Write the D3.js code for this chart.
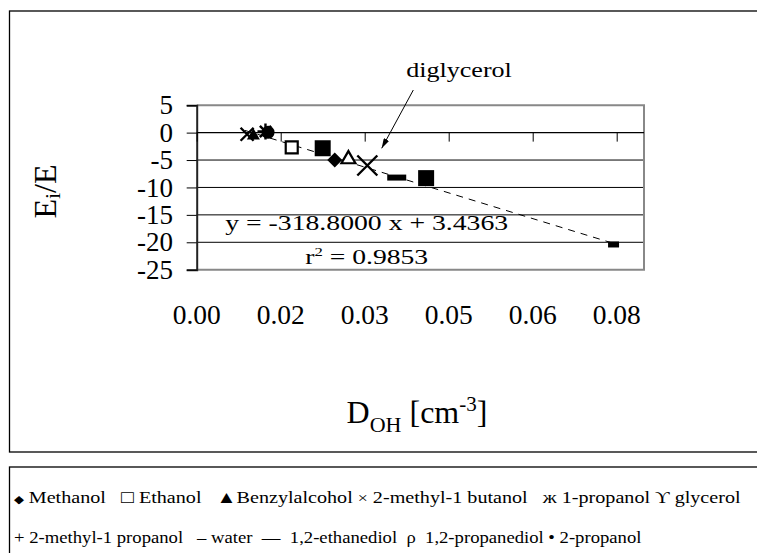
<!DOCTYPE html>
<html><head><meta charset="utf-8">
<script src="https://cdn.jsdelivr.net/npm/d3@7"></script>
<style>body{margin:0;background:#fff}</style>
</head><body>
<svg id="c" width="757" height="553" font-family="Liberation Serif"></svg>
<script>
// ---- data ----
const seriesNames = ["2-methyl-1 butanol","Benzylalcohol","1-propanol","2-propanol","Ethanol","2-methyl-1 propanol","Methanol","1,2-propanediol","diglycerol","1,2-ethanediol","glycerol","water"];
const seriesX = [0.0096,0.0108,0.0131,0.0136,0.0181,0.0240,0.0263,0.0289,0.0325,0.0381,0.0437,0.0794];
const seriesY = [-0.3,-0.45,0.2,0.05,-2.7,-2.85,-5.0,-4.7,-6.0,-8.2,-8.3,-20.4];
const xTickValues = [0,0.016,0.032,0.048,0.064,0.080];
const xTickLabels = ["0.00","0.02","0.03","0.05","0.06","0.08"];
const yTickValues = [5,0,-5,-10,-15,-20,-25];
const trendX = [0.0092,0.0794];
const trendY = [0.4,-20.2];
const equationText = "y = -318.8000 x + 3.4363";
const r2Text = "0.9853";
const annotationLabel = "diglycerol";
const annotationFrom = [0.04126,7.77];
const annotationTo = [0.03524,-2.86];
// legend: [symbol, label] pairs as printed in the reference
const legendSymbols1 = ["\u25C6","\u25A1","\u25B2","\u00D7","\u0436","\u03D2"];
const legendLabels1  = [" Methanol   "," Ethanol   ","Benzylalcohol "," 2-methyl-1 butanol   "," 1-propanol "," glycerol"];
const legendSymbols2 = ["+","\u2013","\u2014","\u03C1","\u2022"];
const legendLabels2  = [" 2-methyl-1 propanol   "," water  ","  1,2-ethanediol  ","  1,2-propanediol "," 2-propanol"];

// ---- marker styles (by series) ----
const markerStyle = {
  "2-methyl-1 butanol":{type:"x",s:13},
  "Benzylalcohol":{type:"triF",s:13},
  "1-propanol":{type:"ast",s:16},
  "2-propanol":{type:"circ",s:13},
  "Ethanol":{type:"sqO",s:12},
  "2-methyl-1 propanol":{type:"sqF",s:16},
  "Methanol":{type:"dia",s:15},
  "1,2-propanediol":{type:"triO",s:14},
  "diglycerol":{type:"x",s:20},
  "1,2-ethanediol":{type:"bar",w:19,h:6},
  "glycerol":{type:"sqF",s:16},
  "water":{type:"bar",w:11,h:6}
};
const legendSymbolSize = {"\u25C6":11,"\u25A1":18,"\u25B2":17,"\u00D7":15};

const FONT = "Liberation Serif";
const svg = d3.select("#c");
const L=196.7, R=644, T=105.2, B=269.7;
const x = d3.scaleLinear().domain([0,0.0852]).range([L,R]);
const y = d3.scaleLinear().domain([-25,5]).range([B,T]);
function txt(parent){ return parent.append("text").attr("font-family",FONT).style("font-family","'"+FONT+"'").attr("fill","#000"); }

// outer frames
svg.append("rect").attr("x",9.5).attr("y",11).attr("width",800).attr("height",441)
  .attr("fill","none").attr("stroke","#000").attr("stroke-width",1.3);
svg.append("rect").attr("x",9.5).attr("y",467).attr("width",800).attr("height",120)
  .attr("fill","none").attr("stroke","#000").attr("stroke-width",1.3);

// gridlines
const g = svg.append("g");
g.selectAll("line.grid").data(yTickValues.filter(v=>v!==5 && v!==-25 && v!==0)).enter()
  .append("line").attr("x1",L).attr("x2",R).attr("y1",d=>y(d)).attr("y2",d=>y(d))
  .attr("stroke","#000").attr("stroke-width",1);
// plot border (grey)
g.append("path").attr("d",`M${L},${T}H${R}V${B}H${L}`).attr("fill","none")
  .attr("stroke","#888").attr("stroke-width",2);

// y axis
const yAxis = d3.axisLeft(y).tickValues(yTickValues).tickSize(10).tickFormat("");
const ya = svg.append("g").attr("transform",`translate(${L},0)`).call(yAxis);
ya.attr("font-family",null);
ya.select(".domain").attr("stroke","#222").attr("stroke-width",2);
ya.selectAll(".tick line").attr("stroke","#000");
const yl = svg.append("g");
yTickValues.forEach(v=>{
  txt(yl).attr("x",173).attr("y",y(v)).attr("dy","0.34em").attr("text-anchor","end").attr("font-size",27)
    .text(v<0?"-"+Math.abs(v):String(v));
});

// x axis at y=0 with downward ticks
const xAxis = d3.axisBottom(x).tickValues(xTickValues).tickSize(9).tickFormat("");
const xa = svg.append("g").attr("transform",`translate(0,${y(0)})`).call(xAxis);
xa.attr("font-family",null);
xa.select(".domain").attr("d",`M${L},0H${R}`).attr("stroke","#000").attr("stroke-width",1.2);
xa.selectAll(".tick line").attr("stroke","#000");
const xl = svg.append("g");
xTickValues.forEach((v,i)=>{
  txt(xl).attr("x",x(v)).attr("y",324).attr("text-anchor","middle").attr("font-size",27.5).text(xTickLabels[i]);
});

// trendline
svg.append("line").attr("x1",x(trendX[0])).attr("y1",y(trendY[0]))
  .attr("x2",x(trendX[1])).attr("y2",y(trendY[1]))
  .attr("stroke","#000").attr("stroke-width",1).attr("stroke-dasharray","7,6");

// markers
function markerPath(st){
  const s=st.s/2;
  switch(st.type){
    case "x": return `M${-s},${-s}L${s},${s}M${-s},${s}L${s},${-s}`;
    case "ast": return `M${-s},0L${s},0M0,${-s}L0,${s}M${-s*0.7},${-s*0.7}L${s*0.7},${s*0.7}M${-s*0.7},${s*0.7}L${s*0.7},${-s*0.7}`;
    case "triF": case "triO": { const h=st.s*0.87; return `M0,${-h*0.6}L${s},${h*0.4}L${-s},${h*0.4}Z`; }
    case "sqF": case "sqO": return `M${-s},${-s}H${s}V${s}H${-s}Z`;
    case "dia": return `M0,${-s}L${s},0L0,${s}L${-s},0Z`;
    case "bar": return `M${-st.w/2},${-st.h/2}H${st.w/2}V${st.h/2}H${-st.w/2}Z`;
  }
}
const pts = seriesNames.map((n,i)=>({n,x:seriesX[i],y:seriesY[i],st:markerStyle[n]}));
svg.append("g").selectAll("g").data(pts).enter().append("g")
  .attr("transform",d=>`translate(${x(d.x)},${y(d.y)})`)
  .each(function(d){
    const sel=d3.select(this);
    if(d.st.type==="circ"){
      sel.append("circle").attr("r",d.st.s/2).attr("fill","#000");
      return;
    }
    const p=sel.append("path").attr("d",markerPath(d.st));
    if(["x","ast"].includes(d.st.type)) p.attr("fill","none").attr("stroke","#000").attr("stroke-width",2.4);
    else if(["sqO","triO"].includes(d.st.type)) p.attr("fill","#fff").attr("stroke","#000").attr("stroke-width",2.2);
    else p.attr("fill","#000");
  });

// stretched text helper
function stretched(parent,cx,by,size,targetW,build,anchor){
  const t=txt(parent).attr("font-size",size).attr("text-anchor",anchor||"middle").attr("xml:space","preserve");
  build(t);
  const w=t.node().getBBox().width;
  const sx=targetW/w;
  t.attr("transform",`translate(${cx},${by}) scale(${sx},1)`);
  return t;
}
// equation and r^2
stretched(svg,366.7,230,21.5,283,t=>t.text(equationText));
stretched(svg,366.7,264,21.5,123,t=>{
  t.append("tspan").text("r");
  t.append("tspan").attr("font-size",13).attr("dy",-8).text("2");
  t.append("tspan").attr("dy",8).text(" = "+r2Text);
});

// annotation
svg.append("defs").append("marker").attr("id","ah").attr("viewBox","0 0 10 6").attr("refX",10).attr("refY",3)
  .attr("markerWidth",10).attr("markerHeight",6).attr("markerUnits","userSpaceOnUse").attr("orient","auto")
  .append("path").attr("d","M0,0L10,3L0,6Z").attr("fill","#000");
svg.append("line").attr("x1",x(annotationFrom[0])).attr("y1",y(annotationFrom[1]))
  .attr("x2",x(annotationTo[0])).attr("y2",y(annotationTo[1]))
  .attr("stroke","#000").attr("stroke-width",1).attr("marker-end","url(#ah)");
stretched(svg,459,77,21,106,t=>t.text(annotationLabel));

// axis titles
const xt = txt(svg).attr("x",417).attr("y",423).attr("text-anchor","middle").attr("font-size",32);
xt.append("tspan").text("D");
xt.append("tspan").attr("font-size",22).attr("dy",9).text("OH");
xt.append("tspan").attr("dy",-9).text(" [cm");
xt.append("tspan").attr("font-size",21).attr("dy",-12).text("-3");
xt.append("tspan").attr("dy",12).text("]");

const yt = txt(svg).attr("transform","translate(56,191.5) rotate(-90)").attr("text-anchor","middle").attr("font-size",32);
yt.append("tspan").text("E");
yt.append("tspan").attr("font-size",22).attr("dy",4).text("i");
yt.append("tspan").attr("dy",-4).text("/E");

// legend
function legendLine(syms,labels){
  return t=>syms.forEach((s,i)=>{
    t.append("tspan").attr("font-size",legendSymbolSize[s]||17).text(s);
    t.append("tspan").text(labels[i]);
  });
}
stretched(svg,14,503,17,727,legendLine(legendSymbols1,legendLabels1),"start");
stretched(svg,14,543,17,628,legendLine(legendSymbols2,legendLabels2),"start");
</script>
</body></html>
